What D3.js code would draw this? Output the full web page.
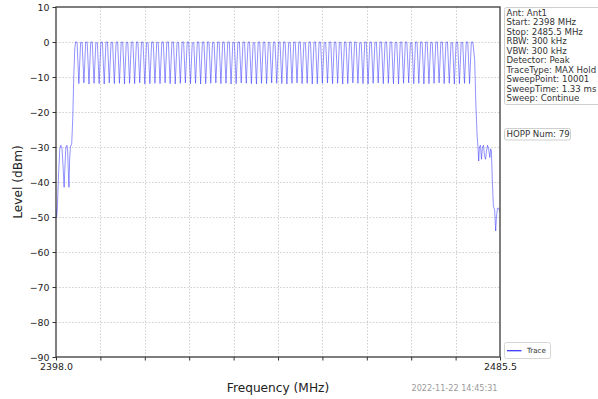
<!DOCTYPE html>
<html>
<head>
<meta charset="utf-8">
<script src="https://cdn.jsdelivr.net/npm/d3@7"></script>
<style>
  html, body { margin: 0; padding: 0; background: #fff; }
  svg { display: block; font-family: "DejaVu Sans", sans-serif; }
</style>
</head>
<body>
<svg id="chart" width="598" height="399"></svg>
<script>
// Sweep settings
const freqStart = 2398.0;
const freqStop = 2485.5;
const levelMin = -90;
const levelMax = 10;
const levelTicks = [10, 0, -10, -20, -30, -40, -50, -60, -70, -80, -90];
const freqTickCount = 10;          // grid divisions along frequency
const freqTickLabels = ["2398.0", "2485.5"];

// Hopping channels: 1 MHz spacing starting at 2402 MHz
const channelStart = 2402;
const hoppNum = 79;
const peakLevels = [
  0, -0.1, 0, 0, -0.2, 0, 0, -0.1, 0, 0,
  -0.1, 0, 0, 0, -0.2, 0, -0.1, 0, 0, 0,
  -0.1, 0, 0, -0.2, 0, 0, 0, -0.1, 0, 0,
  0, -0.1, 0, 0, 0, -0.2, 0, 0, -0.1, 0,
  0, 0, -0.1, 0, 0, -0.2, 0, 0, 0, -0.1,
  0, 0, -0.1, 0, 0, 0, -0.2, 0, 0, -0.1,
  0, 0, 0, -0.1, 0, 0, -0.2, 0, 0, 0,
  -0.1, 0, 0, 0, -0.2, 0, -0.1, 0, 0
];
const dipLevels = [
  -11.9, -11.7, -12.0, -11.8, -11.9, -12.0, -11.7, -11.9, -11.8, -12.0,
  -11.8, -11.9, -11.7, -12.0, -11.9, -11.8, -11.9, -11.7, -11.9, -12.0,
  -11.8, -11.7, -11.9, -11.8, -12.0, -11.9, -11.8, -11.7, -11.9, -11.8,
  -12.0, -11.9, -11.7, -11.8, -11.9, -12.0, -11.8, -11.9, -11.7, -11.8,
  -11.9, -12.0, -11.8, -11.7, -11.9, -11.8, -12.0, -11.9, -11.8, -11.7,
  -11.9, -11.8, -12.0, -11.9, -11.7, -11.8, -11.9, -12.0, -11.8, -11.7,
  -11.9, -11.8, -11.9, -12.0, -11.8, -11.7, -11.9, -11.8, -12.0, -11.9,
  -11.8, -11.7, -11.9, -11.8, -12.0, -11.9, -11.8, -11.9
];

// Out-of-band skirts [frequency MHz, level dBm]
const lowSkirt = [
  [2398.00, -47.5], [2398.10, -50.2], [2398.25, -48.0], [2398.50, -38.0],
  [2398.75, -30.5], [2398.95, -29.5], [2399.20, -30.5], [2399.45, -37.0],
  [2399.60, -41.5], [2399.75, -36.0], [2399.95, -30.0], [2400.15, -29.5],
  [2400.30, -31.0], [2400.45, -38.0], [2400.55, -41.5], [2400.70, -33.0],
  [2400.85, -30.0], [2401.10, -29.0], [2401.30, -22.0], [2401.50, -10.0],
  [2401.70, -2.0]
];
const highSkirt = [
  [2480.50, -5.0], [2480.75, -18.0], [2481.00, -27.0], [2481.15, -30.0],
  [2481.30, -34.0], [2481.45, -30.0], [2481.65, -29.5], [2481.85, -33.5],
  [2482.05, -30.0], [2482.25, -29.5], [2482.45, -32.5], [2482.65, -33.5],
  [2482.85, -31.0], [2483.05, -29.5], [2483.30, -31.0], [2483.50, -33.0],
  [2483.65, -30.5], [2483.80, -31.0], [2484.00, -40.0], [2484.20, -47.0],
  [2484.45, -48.0], [2484.65, -54.0], [2484.80, -50.0], [2485.00, -47.5],
  [2485.25, -47.5], [2485.50, -48.5]
];

const infoLines = [
  "Ant: Ant1",
  "Start: 2398 MHz",
  "Stop: 2485.5 MHz",
  "RBW: 300 kHz",
  "VBW: 300 kHz",
  "Detector: Peak",
  "TraceType: MAX Hold",
  "SweepPoint: 10001",
  "SweepTime: 1.33 ms",
  "Sweep: Continue"
];
const hoppLabel = "HOPP Num: " + hoppNum;
const timestamp = "2022-11-22 14:45:31";

// Build trace vertices: skirt, then each channel with a flat crest and a notch between neighbours
const trace = lowSkirt.slice();
for (let i = 0; i < hoppNum; i++) {
  const fc = channelStart + i;
  trace.push([fc - 0.15, peakLevels[i]], [fc + 0.15, peakLevels[i]]);
  if (i < hoppNum - 1) trace.push([fc + 0.5, dipLevels[i]]);
}
highSkirt.forEach(p => trace.push(p));

const svg = d3.select("#chart");
const plot = { left: 56, right: 500, top: 7, bottom: 357 };

const x = d3.scaleLinear().domain([freqStart, freqStop]).range([plot.left, plot.right]);
const y = d3.scaleLinear().domain([levelMin, levelMax]).range([plot.bottom, plot.top]);

const freqTicks = d3.range(freqTickCount + 1).map(i => freqStart + i * (freqStop - freqStart) / freqTickCount);
const fmtMinus = d => (d < 0 ? "\u2212" + Math.abs(d) : String(d));

// Grid
const grid = svg.append("g").attr("stroke", "#b4b4b4").attr("stroke-width", 0.6)
  .attr("stroke-dasharray", "1.6,1.6").attr("fill", "none");
grid.selectAll("line.v").data(freqTicks.slice(1, -1)).join("line")
  .attr("x1", d => Math.round(x(d)) + 0.5).attr("x2", d => Math.round(x(d)) + 0.5)
  .attr("y1", plot.top).attr("y2", plot.bottom);
grid.selectAll("line.h").data(levelTicks.slice(1, -1)).join("line")
  .attr("y1", d => Math.round(y(d)) + 0.5).attr("y2", d => Math.round(y(d)) + 0.5)
  .attr("x1", plot.left).attr("x2", plot.right);

// Trace
svg.append("defs").append("clipPath").attr("id", "plotClip")
  .append("rect").attr("x", plot.left).attr("y", plot.top)
  .attr("width", plot.right - plot.left).attr("height", plot.bottom - plot.top);

const line = d3.line().x(d => x(d[0])).y(d => y(d[1])).curve(d3.curveLinear);
svg.append("path")
  .datum(trace)
  .attr("clip-path", "url(#plotClip)")
  .attr("fill", "none")
  .attr("stroke", "#2a2aff")
  .attr("stroke-opacity", 0.85)
  .attr("stroke-width", 0.6)
  .attr("stroke-linejoin", "round")
  .attr("d", line);

// Axes
const yAxis = d3.axisLeft(y).tickValues(levelTicks).tickSize(3.5).tickPadding(3).tickFormat(fmtMinus);
const gy = svg.append("g").attr("transform", `translate(${plot.left},0)`).call(yAxis);
const xAxis = d3.axisBottom(x).tickValues(freqTicks).tickSize(3.5).tickPadding(3)
  .tickFormat((d, i) => i === 0 ? freqTickLabels[0] : (i === freqTicks.length - 1 ? freqTickLabels[1] : ""));
const gx = svg.append("g").attr("transform", `translate(0,${plot.bottom})`).call(xAxis);

[gx, gy].forEach(g => {
  g.select(".domain").remove();
  g.selectAll(".tick line").attr("stroke", "#333").attr("stroke-width", 1);
  g.selectAll(".tick text").attr("fill", "#222").attr("font-size", 9.4)
    .attr("font-family", "DejaVu Sans, sans-serif");
});

// Frame
svg.append("rect")
  .attr("x", plot.left).attr("y", plot.top)
  .attr("width", plot.right - plot.left).attr("height", plot.bottom - plot.top)
  .attr("fill", "none").attr("stroke", "#3a3a3a").attr("stroke-width", 1.3);

// Axis titles
svg.append("text").attr("x", (plot.left + plot.right) / 2).attr("y", 391.5)
  .attr("text-anchor", "middle").attr("font-size", 12.2).attr("fill", "#222")
  .text("Frequency (MHz)");
svg.append("text").attr("transform", "translate(21.5,182) rotate(-90)")
  .attr("text-anchor", "middle").attr("font-size", 12.2).attr("fill", "#222")
  .text("Level (dBm)");

// Timestamp
svg.append("text").attr("x", 454.5).attr("y", 390.8)
  .attr("text-anchor", "middle").attr("font-size", 8.1).attr("fill", "#9a9a9a")
  .text(timestamp);

// Instrument settings box
svg.append("rect").attr("x", 504.5).attr("y", 7.5).attr("width", 100).attr("height", 97)
  .attr("rx", 2).attr("fill", "#fff").attr("stroke", "#cfcfcf").attr("stroke-width", 1);
svg.append("g").selectAll("text").data(infoLines).join("text")
  .attr("x", 506.5).attr("y", (d, i) => 15.9 + i * 9.5)
  .attr("font-size", 8.6).attr("fill", "#333")
  .text(d => d);

// Hop count box
svg.append("rect").attr("x", 504.5).attr("y", 128.5).attr("width", 66).attr("height", 11.5)
  .attr("rx", 2).attr("fill", "#fff").attr("stroke", "#cfcfcf").attr("stroke-width", 1);
svg.append("text").attr("x", 506.5).attr("y", 137.3)
  .attr("font-size", 8.6).attr("fill", "#333").text(hoppLabel);

// Legend
const lg = svg.append("g");
lg.append("rect").attr("x", 504.5).attr("y", 342.5).attr("width", 46).attr("height", 16)
  .attr("rx", 2).attr("fill", "#fff").attr("stroke", "#d6d6d6").attr("stroke-width", 1);
lg.append("line").attr("x1", 507).attr("x2", 521.5).attr("y1", 350.7).attr("y2", 350.7)
  .attr("stroke", "#3a3aff").attr("stroke-width", 1.3);
lg.append("text").attr("x", 527).attr("y", 353.2).attr("font-size", 7.1).attr("fill", "#333")
  .text("Trace");
</script>
</body>
</html>
